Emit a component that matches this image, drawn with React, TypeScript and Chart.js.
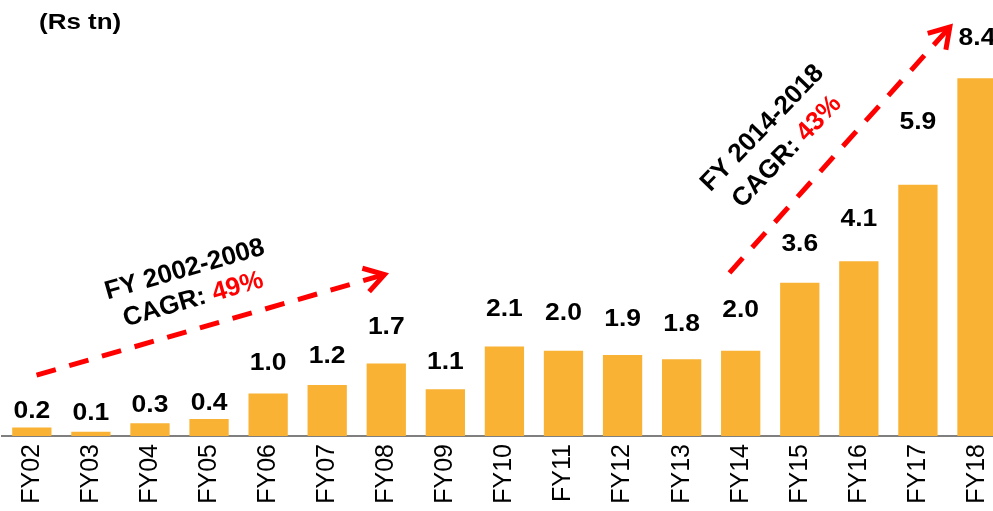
import React, { useEffect, useRef } from "react";
import { Chart, registerables } from "chart.js";

Chart.register(...registerables);

const categories = ["FY02", "FY03", "FY04", "FY05", "FY06", "FY07", "FY08", "FY09", "FY10", "FY11", "FY12", "FY13", "FY14", "FY15", "FY16", "FY17", "FY18"];
const values = [0.2, 0.1, 0.3, 0.4, 1.0, 1.2, 1.7, 1.1, 2.1, 2.0, 1.9, 1.8, 2.0, 3.6, 4.1, 5.9, 8.4];
const valueLabels = ["0.2", "0.1", "0.3", "0.4", "1.0", "1.2", "1.7", "1.1", "2.1", "2.0", "1.9", "1.8", "2.0", "3.6", "4.1", "5.9", "8.4"];
const unitTitle = "(Rs tn)";
const growthPeriods = ["FY 2002-2008", "FY 2014-2018"];
const growthRates = ["49%", "43%"];

// layout (pixel gaps between bar top and label centre)
const LABEL_GAP = [18, 21, 20, 18, 32, 31, 38, 29, 39, 40, 38, 37, 43, 40, 44, 64, 42];

const FONT = "'Liberation Sans', Arial, sans-serif";
const BAR_COLOR = "#F9B233";
const RED = "#FF0000";

const overlayPlugin = {
  id: "overlay",
  afterDatasetsDraw(chart: any) {
    const ctx = chart.ctx;
    const xs = chart.scales.x;
    const ys = chart.scales.y;
    const px = (i: number) => xs.getPixelForValue(i);
    const py = (v: number) => ys.getPixelForValue(v);

    // title
    ctx.save();
    ctx.fillStyle = "#000";
    ctx.font = `bold 22px ${FONT}`;
    ctx.textBaseline = "alphabetic";
    ctx.textAlign = "left";
    ctx.translate(39, 29);
    ctx.scale(1.18, 1);
    ctx.fillText(unitTitle, 0, 0);
    ctx.restore();

    // value labels
    const meta = chart.getDatasetMeta(0);
    meta.data.forEach((bar: any, i: number) => {
      const fs = 24.5;
      ctx.save();
      ctx.fillStyle = "#000";
      ctx.font = `bold ${fs}px ${FONT}`;
      ctx.textAlign = "center";
      ctx.textBaseline = "alphabetic";
      const cy = bar.y - LABEL_GAP[i];
      ctx.translate(bar.x, cy + 0.358 * fs);
      ctx.scale(1.08, 1);
      ctx.fillText(valueLabels[i], 0, 0);
      ctx.restore();
    });

    // arrows
    const arrow = (x1: number, y1: number, x2: number, y2: number) => {
      ctx.save();
      ctx.strokeStyle = RED;
      ctx.lineWidth = 5;
      ctx.setLineDash([20, 14]);
      ctx.beginPath();
      ctx.moveTo(x1, y1);
      ctx.lineTo(x2, y2);
      ctx.stroke();
      ctx.setLineDash([]);
      const a = Math.atan2(y2 - y1, x2 - x1);
      const L = 23;
      const spread = (32 * Math.PI) / 180;
      ctx.lineJoin = "miter";
      ctx.beginPath();
      ctx.moveTo(x2 - L * Math.cos(a - spread), y2 - L * Math.sin(a - spread));
      ctx.lineTo(x2, y2);
      ctx.lineTo(x2 - L * Math.cos(a + spread), y2 - L * Math.sin(a + spread));
      ctx.stroke();
      ctx.restore();
    };
    arrow(px(0.08), py(1.43), px(5.97), py(3.79));
    arrow(px(11.81), py(3.83), px(15.54), py(9.6));

    // rotated annotation text
    const note = (cx: number, cy: number, deg: number, period: string, rate: string, spacing: number) => {
      const fs = 26;
      ctx.save();
      ctx.translate(cx, cy);
      ctx.rotate((deg * Math.PI) / 180);
      ctx.font = `bold ${fs}px ${FONT}`;
      ctx.textBaseline = "alphabetic";
      ctx.textAlign = "left";
      const w1 = ctx.measureText(period).width;
      ctx.fillStyle = "#000";
      ctx.fillText(period, -w1 / 2, -spacing / 2 + 0.358 * fs);
      const pre = "CAGR: ";
      const wp = ctx.measureText(pre).width;
      const wr = ctx.measureText(rate).width;
      const start = -(wp + wr) / 2;
      const by = spacing / 2 + 0.358 * fs;
      ctx.fillText(pre, start, by);
      ctx.fillStyle = RED;
      ctx.fillText(rate, start + wp, by);
      ctx.restore();
    };
    note(px(2.65), py(3.6), -16, growthPeriods[0], growthRates[0], 31);
    note(px(12.55), py(6.98), -46, growthPeriods[1], growthRates[1], 34);
  },
};

export default function App() {
  const ref = useRef<HTMLCanvasElement | null>(null);
  useEffect(() => {
    if (!ref.current) return;
    const chart = new Chart(ref.current, {
      type: "bar",
      data: {
        labels: categories,
        datasets: [
          {
            data: values,
            backgroundColor: BAR_COLOR,
            borderWidth: 0,
            categoryPercentage: 1,
            barPercentage: 0.665,
          },
        ],
      },
      options: {
        animation: false,
        responsive: true,
        maintainAspectRatio: false,
        layout: { padding: { left: 2.3, right: 0.5, top: 10, bottom: 0 } },
        plugins: { legend: { display: false }, tooltip: { enabled: false }, title: { display: false } },
        scales: {
          x: {
            offset: true,
            grid: { display: false, drawTicks: false },
            border: { display: true, color: "#7F7F7F", width: 2 },
            ticks: {
              color: "#000",
              font: { family: FONT, size: 25 },
              minRotation: 90,
              maxRotation: 90,
              padding: 8,
              autoSkip: false,
            },
            afterFit: (s: any) => {
              s.height = 75;
            },
          },
          y: {
            display: false,
            min: 0,
            max: 10,
          },
        },
      },
      plugins: [overlayPlugin],
    });
    return () => chart.destroy();
  }, []);
  return (
    <div style={{ position: "fixed", left: 0, top: 0, width: 993, height: 511, overflow: "hidden", background: "#fff" }}>
      <div style={{ position: "absolute", left: 0, top: 0, width: 1015, height: 511 }}>
        <canvas ref={ref} />
      </div>
    </div>
  );
}
